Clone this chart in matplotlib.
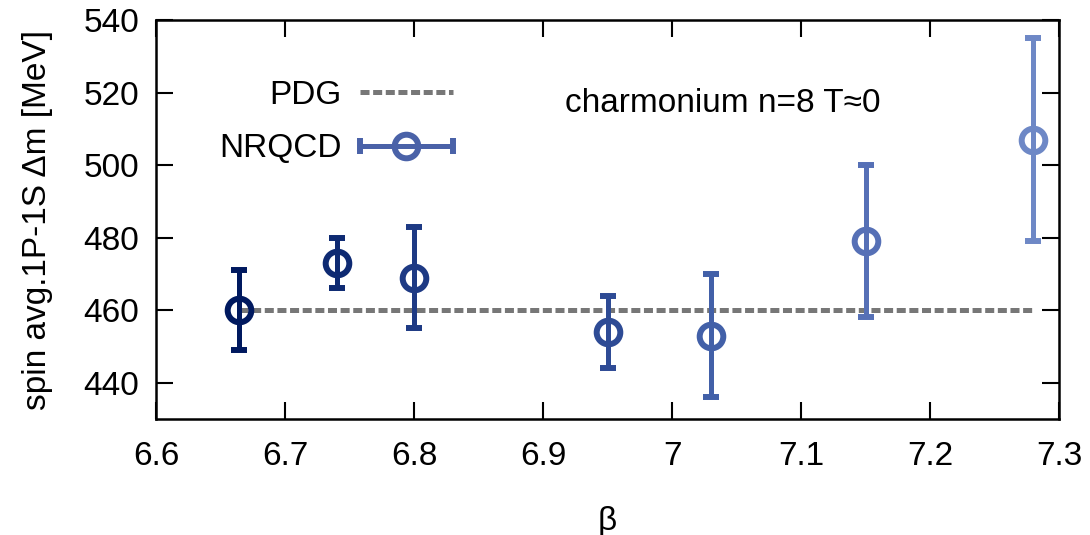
import matplotlib
matplotlib.use("Agg")
import numpy as np
import matplotlib.pyplot as plt
from matplotlib.legend_handler import HandlerErrorbar

plt.rcParams['font.family'] = ['Liberation Sans', 'DejaVu Sans']
plt.rcParams['font.size'] = 24
plt.rcParams['lines.scale_dashes'] = False

# lattice spacings (beta) and NRQCD spin-averaged 1P-1S splittings
beta = [6.664, 6.74, 6.80, 6.95, 7.03, 7.15, 7.28]
dm = [460.0, 473.0, 469.0, 454.0, 453.0, 479.0, 507.0]
dm_err = [11.0, 7.0, 14.0, 10.0, 17.0, 21.0, 28.0]
colors = ['#00195f', '#0e2a72', '#1e3a84', '#2e4b95', '#4260a8', '#5670b6', '#6e88c6']

pdg = 460.0
pdg_range = [6.664, 7.28]

fig = plt.figure(figsize=(10.9, 5.35), dpi=100)
ax = fig.add_axes([0.1431, 0.2168, 0.8285, 0.7458])

ax.plot(pdg_range, [pdg, pdg], color='#777777', lw=3.6, dashes=(6.5, 2.6),
        label='PDG', zorder=2)

style = dict(fmt='o', ms=17, mfc='none', mew=4.3, elinewidth=3.6,
             capsize=5.5, capthick=3.6)
for b, m, e, c in zip(beta, dm, dm_err, colors):
    ax.errorbar([b], [m], yerr=[e], mec=c, color=c, ecolor=c, zorder=3, **style)

# legend proxy: horizontal bar with caps, as gnuplot shows it
proxy = ax.errorbar([np.nan], [np.nan], xerr=[0.0], mec='#4a62a8',
                    color='#4a62a8', ecolor='#4a62a8', label='NRQCD', **style)

handles, labels = ax.get_legend_handles_labels()
leg = ax.legend(handles, labels, loc='upper right', bbox_to_anchor=(0.329, 0.85),
                frameon=False, markerfirst=False, handlelength=2.8,
                handletextpad=0.55, labelspacing=0.67, borderpad=0, borderaxespad=0,
                numpoints=1,
                handler_map={type(proxy): HandlerErrorbar(xerr_size=1.4)})

ax.text(6.917, 517.1, 'charmonium n=8 T\u22480', ha='left', va='center')

ax.set_xlim(6.6, 7.3)
ax.set_ylim(430, 540)
ax.set_xticks([6.6, 6.7, 6.8, 6.9, 7.0, 7.1, 7.2, 7.3])
ax.set_xticklabels(['6.6', '6.7', '6.8', '6.9', '7', '7.1', '7.2', '7.3'])
ax.set_yticks([440, 460, 480, 500, 520, 540])

ax.tick_params(direction='in', length=12, width=1.5, top=True, right=True,
               labelsize=24)
ax.tick_params(axis='x', pad=16)
ax.tick_params(axis='y', pad=12)
for s in ax.spines.values():
    s.set_linewidth(1.8)

ax.set_xlabel('\u03b2', labelpad=24)
ax.set_ylabel('spin avg.1P-1S \u0394m [MeV]', labelpad=22)

fig.savefig('out.png', dpi=100)
